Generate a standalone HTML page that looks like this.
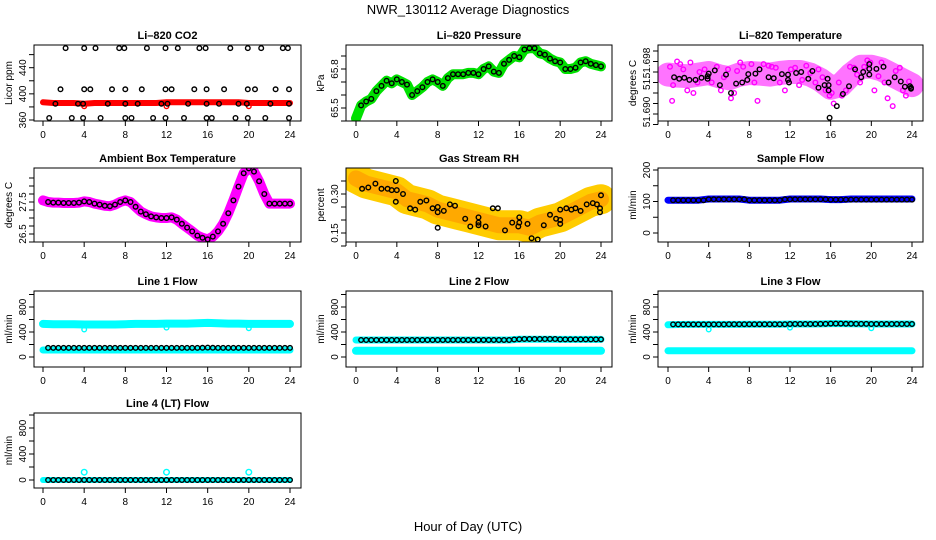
<!DOCTYPE html>
<html><head><meta charset="utf-8"><style>
html,body{margin:0;padding:0;background:#fff}
svg{display:block}
text{font-family:"Liberation Sans",sans-serif;fill:#000}
</style></head><body>
<svg id="chart" width="936" height="540" viewBox="0 0 936 540" xmlns="http://www.w3.org/2000/svg">
<text x="468" y="14" text-anchor="middle" font-size="13">NWR_130112  Average Diagnostics</text>
<text x="468" y="531" text-anchor="middle" font-size="13">Hour of Day (UTC)</text>
</svg>
<script>
// ---------- shared categories ----------
const hourly = [0,1,2,3,4,5,6,7,8,9,10,11,12,13,14,15,16,17,18,19,20,21,22,23,24];
const halfHours = [0,0.5,1,1.5,2,2.5,3,3.5,4,4.5,5,5.5,6,6.5,7,7.5,8,8.5,9,9.5,10,10.5,11,11.5,12,12.5,13,13.5,14,14.5,15,15.5,16,16.5,17,17.5,18,18.5,19,19.5,20,20.5,21,21.5,22,22.5,23,23.5,24];
const xTicks = [0,4,8,12,16,20,24];

// ---------- CO2 ----------
const co2Red = [387,386,386,386,385,386,386,386,386,386,386,386,387,387,387,387,387,387,387,387,386,386,386,386,386];
const co2BlackHours = [2.2,4,5.1,7.4,7.9,10.1,11.9,13.1,15.2,15.8,18.2,19.9,21.2,23.3,23.8, 1.7,4,4.6,6.7,8,9.6,11.9,12.5,14.7,15.9,17.6,19.9,20.6,22.6,23.9, 1.2,3.4,3.9,6.3,8,9.2,11.5,12.1,14.1,15.9,17.1,19,19.8,22.1,23.9, 0.6,2.8,3.9,5.6,8,8.6,10.7,11.9,13.7,15.9,16.4,18.7,19.9,21.6,23.9];
const co2BlackValues = [470,470,470,470,470,470,470,470,470,470,470,470,470,470,470, 407,407,407,407,407,407,407,407,407,407,407,407,407,407,407, 385,385,385,385,385,385,385,385,385,385,385,385,385,385,385, 363,363,363,363,363,363,363,363,363,363,363,363,363,363,363];
const co2RedOutHours = [4,12,20];
const co2RedOutValues = [381,381,381];

// ---------- Pressure ----------
const presGreen = [65.42,65.52,65.55,65.57,65.63,65.67,65.71,65.69,65.72,65.70,65.68,65.60,65.63,65.66,65.70,65.72,65.70,65.67,65.73,65.76,65.76,65.76,65.77,65.77,65.76,65.80,65.82,65.78,65.77,65.84,65.87,65.90,65.89,65.95,65.96,65.96,65.92,65.91,65.88,65.86,65.85,65.80,65.80,65.81,65.85,65.86,65.84,65.83,65.82];

// ---------- Li-820 temperature ----------
const tempBand = [51.6975,51.6973,51.6972,51.6975,51.6978,51.6972,51.6968,51.6975,51.6978,51.6977,51.6975,51.6978,51.6980,51.6980,51.6975,51.6965,51.6950,51.6955,51.6975,51.6990,51.6990,51.6985,51.6975,51.6965,51.6955];
const tempMagHours = [0.2,0.4,1.2,1.9,2.5,3.1,4.3,5.2,5.9,6.5,7.1,8.8,9.4,10.6,11.5,12.9,13.6,14.5,15.2,15.9,16.3,16.8,17.5,18.3,18.9,19.6,20.3,21.0,21.6,22.1,22.8,23.4,0.9,2.2,3.6,6.2,7.4,8.2,10.2,12.1,14.0,16.1,17.9,19.9,21.3,23.1,0.5,1.5,2.9,4.8,5.5,6.8,8.5,9.9,11.0,12.5,13.2,14.8,15.5,17.1,18.6,19.3,20.7,22.4,23.7];
const tempMagValues = [51.6990,51.6925,51.6995,51.6945,51.6940,51.6980,51.6960,51.6945,51.6985,51.6940,51.6998,51.6925,51.6995,51.6988,51.6945,51.6955,51.6992,51.6960,51.6970,51.6935,51.6920,51.6960,51.6945,51.6988,51.6960,51.7002,51.6945,51.6998,51.6930,51.6915,51.6988,51.6935,51.7000,51.6998,51.6985,51.6930,51.6990,51.6995,51.6990,51.6985,51.6978,51.6940,51.6990,51.6998,51.6960,51.6945,51.6955,51.6985,51.6960,51.6990,51.6970,51.6982,51.6960,51.6992,51.6960,51.6988,51.6965,51.6985,51.6945,51.6935,51.6975,51.6990,51.6972,51.6982,51.6962];
const tempBlackHours = [0.6,1.1,1.6,2.1,2.7,3.3,3.9,3.9,4.0,4.6,5.1,5.7,6.2,6.7,7.3,7.8,7.9,8.6,9.0,9.9,10.4,11.2,11.8,11.8,11.9,12.6,13.1,13.8,14.2,14.8,15.4,15.7,15.8,15.8,15.9,16.6,17.2,17.8,18.4,19.0,19.2,19.8,19.8,19.8,20.5,21.2,21.7,22.3,22.9,23.3,23.8,23.9,23.9];
const tempBlackValues = [51.6970,51.6967,51.6969,51.6965,51.6965,51.6969,51.6967,51.6972,51.6977,51.6983,51.6955,51.6975,51.6940,51.6958,51.6960,51.6965,51.6976,51.6977,51.6985,51.6970,51.6968,51.6976,51.6965,51.6975,51.6960,51.6978,51.6980,51.6967,51.6982,51.6950,51.6955,51.6967,51.6955,51.6945,51.6893,51.6915,51.6938,51.6953,51.6985,51.6970,51.6980,51.6995,51.6986,51.6975,51.6986,51.6990,51.6960,51.6970,51.6962,51.6952,51.6953,51.6950,51.6948];

// ---------- Ambient box temperature ----------
const ambMagenta = [27.55,27.5,27.48,27.48,27.47,27.47,27.47,27.48,27.52,27.5,27.45,27.42,27.38,27.37,27.42,27.5,27.55,27.5,27.35,27.2,27.12,27.05,27.02,27.0,27.0,27.02,26.95,26.82,26.7,26.58,26.45,26.38,26.33,26.42,26.58,26.82,27.15,27.55,27.98,28.4,28.55,28.45,28.15,27.75,27.45,27.45,27.45,27.45,27.45];

// ---------- Gas stream RH ----------
const rhBand = [0.36,0.34,0.33,0.32,0.31,0.28,0.27,0.26,0.24,0.23,0.22,0.21,0.20,0.19,0.18,0.18,0.18,0.17,0.19,0.20,0.21,0.23,0.25,0.27,0.28];
const rhBlackHours = [0.6,1.2,1.9,2.5,3.1,3.5,4.0,3.9,3.9,4.6,5.3,5.8,6.3,6.9,7.5,8.0,8.0,8.0,8.6,9.2,9.7,10.7,11.2,12.0,12.0,12.0,12.7,13.4,13.9,14.6,15.3,15.9,16.0,16.0,16.8,17.2,17.8,18.4,19.0,19.6,20.0,20.0,20.0,20.6,21.1,21.5,22.0,22.6,23.2,23.6,23.9,23.9,24.0];
const rhBlackValues = [0.32,0.325,0.34,0.32,0.32,0.315,0.315,0.35,0.27,0.30,0.245,0.24,0.27,0.275,0.245,0.25,0.23,0.17,0.235,0.26,0.255,0.205,0.175,0.21,0.19,0.18,0.175,0.245,0.245,0.16,0.19,0.175,0.21,0.19,0.185,0.13,0.125,0.18,0.22,0.205,0.20,0.24,0.185,0.245,0.24,0.245,0.235,0.26,0.265,0.26,0.245,0.23,0.295];

// ---------- Sample flow ----------
const sampleBlue = [104,104,104,104,108,108,108,108,104,104,104,104,108,108,108,108,106,106,108,108,108,108,108,108,108];
const sampleBlack = [104,104,104,104,104,104,104,104,107,107,107,107,107,107,107,107,104,104,104,104,104,104,104,107,107,107,107,107,107,107,107,107,106,106,106,106,106,106,106,106,106,106,106,106,106,106,106,106,106];

// ---------- Line flows ----------
const l1CyanHigh = [530,525,525,525,520,520,520,520,525,530,530,530,535,535,535,540,545,540,535,535,530,530,530,530,530];
const l1CyanLow = [112,112,112,112,112,112,112,112,112,112,112,112,112,112,112,112,112,112,112,112,112,112,112,112,112];
const l1Black = [145,145,145,145,145,145,145,145,145,145,145,145,145,145,145,145,145,145,145,145,145,145,145,145,145,145,145,145,145,145,145,148,150,148,145,145,145,145,145,145,145,145,145,145,145,145,145,145,145];
const l2CyanHigh = [272,272,272,272,272,272,272,272,272,272,272,272,272,272,272,272,285,285,285,285,282,282,282,282,282];
const l2CyanLow = [100,100,100,100,100,100,100,100,100,100,100,100,100,100,100,100,100,100,100,100,100,100,100,100,100];
const l2Black = [272,272,272,272,272,272,272,272,272,272,272,272,272,272,272,272,272,272,272,272,272,272,272,272,272,272,272,272,272,272,272,280,285,288,288,288,288,288,288,288,282,282,282,282,282,282,282,282,282];
const l3CyanHigh = [515,520,522,522,522,522,522,522,525,525,525,525,528,528,528,530,535,535,532,530,528,528,528,528,528];
const l3CyanLow = [100,100,100,100,100,100,100,100,100,100,100,100,100,100,100,100,100,100,100,100,100,100,100,100,100];
const l3Black = [522,522,522,522,522,522,522,522,522,522,522,522,525,525,525,525,525,525,525,525,525,525,525,525,528,528,528,528,528,528,530,530,535,535,535,532,532,530,530,530,528,528,528,528,528,528,528,528,528];
const l4Cyan = [0,0,0,0,0,0,0,0,0,0,0,0,0,0,0,0,0,0,0,0,0,0,0,0,0];
const l4Black = [0,0,0,0,0,0,0,0,0,0,0,0,0,0,0,0,0,0,0,0,0,0,0,0,0,0,0,0,0,0,0,0,0,0,0,0,0,0,0,0,0,0,0,0,0,0,0,0,0];
const dipHours = [4,12,20];
const l1Dips = [440,470,460];
const l4Outliers = [120,120,120];

// ---------- drawing helpers ----------
const NS = 'http://www.w3.org/2000/svg';
const svg = document.getElementById('chart');
const colBox = [[34,301],[346,612],[658,923]];
const colData = [[43,290],[356,601],[668,912]];
const rowBox = [[45,121],[168,242],[291,367],[413,488]];

function mk(tag, attrs, parent){
  const e = document.createElementNS(NS, tag);
  for (const k in attrs) e.setAttribute(k, attrs[k]);
  (parent||svg).appendChild(e);
  return e;
}

function makePanel(col, row, name, title, ylab, v0, p0, v1, p1, yTicks, yLabels){
  const g = mk('g', {});
  
  
  const [bx0,bx1] = colBox[col], [by0,by1] = rowBox[row], [dx0,dx1] = colData[col];
  const xs = h => dx0 + (dx1-dx0)*h/24;
  const ys = v => p0 + (v - v0)*(p1-p0)/(v1-v0);
  const t = mk('text', {x:(bx0+bx1)/2, y:by0-6, 'text-anchor':'middle','font-size':'11','font-weight':'bold'}, g);
  t.textContent = title;
  
  
  const yt = mk('text', {x:0,y:0,'text-anchor':'middle','font-size':'10',transform:`translate(${bx0-22},${(by0+by1)/2}) rotate(-90)`}, g);
  yt.textContent = ylab;
  
  
  const xa = mk('g', {}, g);
  
  
  mk('line', {x1:xs(0), x2:xs(24), y1:by1, y2:by1, stroke:'#000'}, xa);
  xTicks.forEach(h => {
    mk('line', {x1:xs(h), x2:xs(h), y1:by1, y2:by1+5, stroke:'#000'}, xa);
    const tx = mk('text', {x:xs(h), y:by1+17, 'text-anchor':'middle','font-size':'10'}, xa);
    tx.textContent = h;
  });
  const ya = mk('g', {}, g);
  
  
  mk('line', {x1:bx0, x2:bx0, y1:ys(yTicks[0]), y2:ys(yTicks[yTicks.length-1]), stroke:'#000'}, ya);
  yTicks.forEach(v => mk('line', {x1:bx0-5, x2:bx0, y1:ys(v), y2:ys(v), stroke:'#000'}, ya));
  yLabels.forEach(([v,lab,off]) => {
    const y = ys(v) + (off||0);
    const tx = mk('text', {x:0,y:0,'text-anchor':'middle','font-size':'10',transform:`translate(${bx0-8},${y}) rotate(-90)`}, ya);
    tx.textContent = lab;
  });
  const clipId = 'c' + name;
  const cp = mk('clipPath', {id:clipId}, g);
  mk('rect', {x:bx0, y:by0, width:bx1-bx0, height:by1-by0}, cp);
  const plot = mk('g', {'clip-path':`url(#${clipId})`}, g);
  
  
  mk('rect', {x:bx0, y:by0, width:bx1-bx0, height:by1-by0, fill:'none', stroke:'#000', 'stroke-width':1}, g);
  return {plot, xs, ys, name};
}

function band(P, hours, vals, color, width, opacity, label){
  const pts = hours.map((h,i) => P.xs(h).toFixed(1) + ',' + P.ys(vals[i]).toFixed(1)).join(' ');
  const pl = mk('polyline', {points:pts, fill:'none', stroke:color, 'stroke-width':width, 'stroke-linecap':'round','stroke-linejoin':'round', opacity:opacity||1}, P.plot);
  
  
}

function circles(P, hours, vals, color, label, r){
  const g = mk('g', {}, P.plot);
  
  
  hours.forEach((h,i) => {
    const c = mk('circle', {cx:P.xs(h).toFixed(1), cy:P.ys(vals[i]).toFixed(1), r:r||2.3, fill:'none', stroke:color, 'stroke-width':1.4}, g);
    
    
  });
}

let P;
P = makePanel(0,0,'co2','Li\u2013820 CO2','Licor ppm',360,120,440,67.7,[360,380,400,420,440,460],[[360,'360'],[400,'400'],[440,'440']]);
band(P, hourly, co2Red, '#ff0000', 6, 1, 'co2-red-series');
circles(P, co2RedOutHours, co2RedOutValues, '#ff0000', 'co2-red-outliers');
circles(P, co2BlackHours, co2BlackValues, '#000', 'co2-black-series');

P = makePanel(1,0,'pressure','Li\u2013820 Pressure','kPa',65.5,108,65.8,69,[65.4,65.5,65.6,65.7,65.8,65.9],[[65.5,'65.5'],[65.8,'65.8']]);
band(P, halfHours, presGreen, '#00e000', 10, 1, 'pressure-green-series');
circles(P, halfHours.slice(1), presGreen.slice(1), '#000', 'pressure-black-series');

P = makePanel(2,0,'li820-temp','Li\u2013820 Temperature','degrees C',51.690,114,51.698,72,[51.688,51.690,51.692,51.694,51.696,51.698,51.700,51.702],[[51.690,'51.690',-2],[51.698,'51.698',-9],[51.694,'51.',-10]]);
band(P, hourly, tempBand, '#ff00ff', 24, 0.55, 'temp-magenta-band');
circles(P, tempMagHours, tempMagValues, '#ff00ff', 'temp-magenta-series');
circles(P, tempBlackHours, tempBlackValues, '#000', 'temp-black-series');

P = makePanel(0,1,'ambient','Ambient Box Temperature','degrees C',26.5,234,27.5,202,[26.25,26.5,26.75,27,27.25,27.5,27.75,28,28.25],[[26.5,'26.5'],[27.5,'27.5']]);
band(P, halfHours, ambMagenta, '#ff00ff', 10, 1, 'ambient-magenta-series');
circles(P, halfHours.slice(1), ambMagenta.slice(1), '#000', 'ambient-black-series');

P = makePanel(1,1,'rh','Gas Stream RH','percent',0.15,233,0.30,194,[0.10,0.15,0.20,0.25,0.30,0.35],[[0.15,'0.15'],[0.30,'0.30']]);
band(P, hourly, rhBand, '#ffcc00', 30, 1, 'rh-yellow-band');
band(P, hourly, rhBand, '#ff6600', 16, 0.35, 'rh-orange-band');
circles(P, rhBlackHours, rhBlackValues, '#000', 'rh-black-series');

P = makePanel(2,1,'sample-flow','Sample Flow','ml/min',0,233,200,170,[0,50,100,150,200],[[0,'0'],[100,'100'],[200,'200']]);
band(P, hourly, sampleBlue, '#0000ff', 7, 1, 'sample-blue-series');
circles(P, halfHours.slice(1), sampleBlack.slice(1), '#000', 'sample-black-series');

P = makePanel(0,2,'line1','Line 1 Flow','ml/min',0,357,800,307,[0,200,400,600,800,1000],[[0,'0'],[400,'400'],[800,'800']]);
band(P, hourly, l1CyanHigh, '#00ffff', 8, 1, 'line1-cyan-high');
band(P, hourly, l1CyanLow, '#00ffff', 7, 1, 'line1-cyan-low');
circles(P, dipHours, l1Dips, '#00ffff', 'line1-cyan-dips');
circles(P, halfHours.slice(1), l1Black.slice(1), '#000', 'line1-black-series');

P = makePanel(1,2,'line2','Line 2 Flow','ml/min',0,357,800,307,[0,200,400,600,800,1000],[[0,'0'],[400,'400'],[800,'800']]);
band(P, hourly, l2CyanHigh, '#00ffff', 7, 1, 'line2-cyan-high');
band(P, hourly, l2CyanLow, '#00ffff', 8, 1, 'line2-cyan-low');
circles(P, halfHours.slice(1), l2Black.slice(1), '#000', 'line2-black-series');

P = makePanel(2,2,'line3','Line 3 Flow','ml/min',0,357,800,307,[0,200,400,600,800,1000],[[0,'0'],[400,'400'],[800,'800']]);
band(P, hourly, l3CyanHigh, '#00ffff', 7, 1, 'line3-cyan-high');
band(P, hourly, l3CyanLow, '#00ffff', 7, 1, 'line3-cyan-low');
circles(P, dipHours, l1Dips, '#00ffff', 'line3-cyan-dips');
circles(P, halfHours.slice(1), l3Black.slice(1), '#000', 'line3-black-series');

P = makePanel(0,3,'line4','Line 4 (LT) Flow','ml/min',0,480,800,428,[0,200,400,600,800,1000],[[0,'0'],[400,'400'],[800,'800']]);
band(P, hourly, l4Cyan, '#00ffff', 6, 1, 'line4-cyan-series');
circles(P, dipHours, l4Outliers, '#00ffff', 'line4-cyan-outliers', 2.8);
circles(P, halfHours.slice(1), l4Black.slice(1), '#000', 'line4-black-series');
</script>
</body></html>
